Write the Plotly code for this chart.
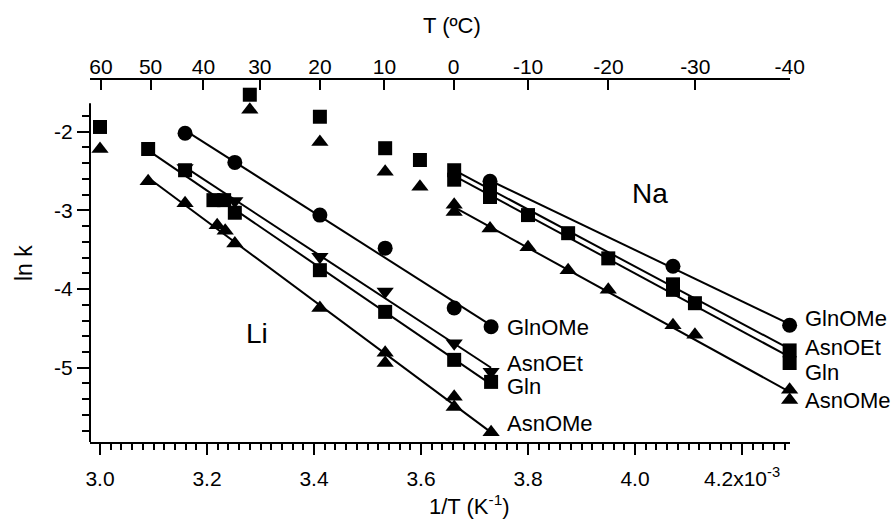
import plotly.graph_objects as go
import numpy as np

# ---- data (x = 1/T in units of 1e-3 K^-1, y = ln k) ----
# Li series
li_glnome_x = [3.159, 3.252, 3.411, 3.533, 3.662, 3.731]
li_glnome_y = [-2.02, -2.39, -3.06, -3.48, -4.24, -4.48]

li_asnoet_x = [3.159, 3.252, 3.411, 3.533, 3.662, 3.731]
li_asnoet_y = [-2.46, -2.88, -3.59, -4.03, -4.69, -5.05]

li_gln_x = [3.090, 3.159, 3.212, 3.232, 3.252, 3.411, 3.533, 3.662, 3.731]
li_gln_y = [-2.22, -2.49, -2.87, -2.87, -3.03, -3.76, -4.29, -4.90, -5.18]

li_asnome_x = [3.090, 3.159, 3.219, 3.234, 3.252, 3.411, 3.533, 3.533, 3.662, 3.662, 3.731]
li_asnome_y = [-2.63, -2.91, -3.19, -3.26, -3.42, -4.24, -4.81, -4.94, -5.37, -5.50, -5.82]

# Na series
na_glnome_x = [3.729, 4.071, 4.289]
na_glnome_y = [-2.63, -3.71, -4.46]

na_asnoet_x = [3.662, 3.729, 4.071, 4.289]
na_asnoet_y = [-2.49, -2.74, -3.94, -4.78]

na_gln_x = [3.662, 3.729, 3.800, 3.875, 3.950, 4.071, 4.112, 4.289]
na_gln_y = [-2.61, -2.83, -3.06, -3.29, -3.61, -4.01, -4.18, -4.94]

na_asnome_x = [3.662, 3.662, 3.729, 3.800, 3.875, 3.950, 4.071, 4.112, 4.289, 4.289]
na_asnome_y = [-2.93, -3.02, -3.23, -3.47, -3.76, -4.01, -4.46, -4.58, -5.28, -5.41]

# points without fit (high temperature)
hi_sq_x = [3.000, 3.280, 3.411, 3.533, 3.598]
hi_sq_y = [-1.94, -1.53, -1.81, -2.21, -2.36]
hi_tri_x = [3.000, 3.280, 3.411, 3.533, 3.598]
hi_tri_y = [-2.22, -1.72, -2.13, -2.51, -2.70]

# axis ticks
top_temps = [60, 50, 40, 30, 20, 10, 0, -10, -20, -30, -40]
y_ticks = [-5, -4, -3, -2]

FONT = "Liberation Sans, Arial, sans-serif"
BLACK = "black"

# ---- layout geometry (pixels) ----
W, H = 894, 521
L, R, T, B = 90, 104, 80, 79
PW, PH = W - L - R, H - T - B
xr = [2.9813, 4.2897]
yr = [-5.944, -1.343]
y_axis_top = -1.64


def px(xp):
    return (xp - L) / PW


def py(yp):
    return (H - B - yp) / PH


fig = go.Figure()

series = [
    (li_glnome_x, li_glnome_y, "circle", 15),
    (li_asnoet_x, li_asnoet_y, "triangle-down", 15),
    (li_gln_x, li_gln_y, "square", 14),
    (li_asnome_x, li_asnome_y, "triangle-up", 15),
    (na_glnome_x, na_glnome_y, "circle", 15),
    (na_asnoet_x, na_asnoet_y, "square", 14),
    (na_gln_x, na_gln_y, "square", 14),
    (na_asnome_x, na_asnome_y, "triangle-up", 15),
]

# fit lines
for xs, ys, sym, sz in series:
    a, b = np.polyfit(xs, ys, 1)
    xe = [min(xs), max(xs)]
    fig.add_trace(go.Scatter(x=xe, y=[a * v + b for v in xe], mode="lines",
                             line=dict(color=BLACK, width=2), showlegend=False,
                             hoverinfo="skip"))

# markers
for xs, ys, sym, sz in series:
    fig.add_trace(go.Scatter(x=xs, y=ys, mode="markers",
                             marker=dict(symbol=sym, size=sz, color=BLACK, line=dict(width=0)),
                             cliponaxis=False, showlegend=False))

fig.add_trace(go.Scatter(x=hi_sq_x, y=hi_sq_y, mode="markers",
                         marker=dict(symbol="square", size=14, color=BLACK, line=dict(width=0)),
                         cliponaxis=False, showlegend=False))
fig.add_trace(go.Scatter(x=hi_tri_x, y=hi_tri_y, mode="markers",
                         marker=dict(symbol="triangle-up", size=15, color=BLACK, line=dict(width=0)),
                         cliponaxis=False, showlegend=False))

# invisible trace on the top axis so it is drawn
fig.add_trace(go.Scatter(x=[xr[0]], y=[yr[0]], xaxis="x2", mode="markers",
                         marker=dict(opacity=0), showlegend=False, hoverinfo="skip"))

top_vals = [1000.0 / (t + 273.15) for t in top_temps]
minor_y = [v for v in np.round(np.arange(-5.8, y_axis_top, 0.2), 2) if abs(v - round(v)) > 1e-6]

fig.update_layout(
    width=W, height=H,
    margin=dict(l=L, r=R, t=T, b=B, pad=0),
    paper_bgcolor="white", plot_bgcolor="white",
    font=dict(family=FONT, size=21, color=BLACK),
    xaxis=dict(range=xr, showline=True, linewidth=2, linecolor=BLACK,
               showgrid=False, zeroline=False,
               tickmode="linear", tick0=3.0, dtick=0.2, tickformat=".1f",
               labelalias={"4.2": "4.2x10<sup>-3</sup>"},
               ticks="outside", ticklen=11, tickwidth=2, tickcolor=BLACK,
               ticklabelstandoff=6,
               minor=dict(dtick=0.02, tick0=3.0, ticks="outside", ticklen=6,
                          tickwidth=1.5, tickcolor=BLACK, showgrid=False),
               anchor="y", tickfont=dict(size=21)),
    xaxis2=dict(range=xr, overlaying="x", side="top", anchor="y",
                showline=True, linewidth=2, linecolor=BLACK,
                showgrid=False, zeroline=False,
                tickmode="array", tickvals=top_vals,
                ticktext=[str(t) for t in top_temps],
                ticks="inside", ticklen=10, tickwidth=2, tickcolor=BLACK,
                ticklabelstandoff=-4,
                tickfont=dict(size=21)),
    yaxis=dict(range=yr, domain=[0, 1], showline=False, showgrid=False, zeroline=False,
               tickmode="array", tickvals=y_ticks,
               ticktext=[str(v) for v in y_ticks],
               ticks="outside", ticklen=12, tickwidth=2, tickcolor=BLACK,
               minor=dict(tickmode="array", tickvals=minor_y, ticks="outside", ticklen=7,
                          tickwidth=2, tickcolor=BLACK, showgrid=False),
               tickfont=dict(size=21)),
)

# left axis line (only up to the top of the ln k scale)
fig.add_shape(type="line", xref="paper", yref="y", x0=0, x1=0, y0=yr[0], y1=y_axis_top,
              line=dict(color=BLACK, width=2))

ann = [
    ("T (ºC)", 452, 25, "center", 22),
    ("1/T (K<sup>-1</sup>)", 470, 505, "center", 22),
    ("Li", 257, 333, "center", 28),
    ("Na", 650, 193, "center", 28),
    ("GlnOMe", 505, 327, "left", 22),
    ("AsnOEt", 505, 363, "left", 22),
    ("Gln", 505, 386, "left", 22),
    ("AsnOMe", 505, 423, "left", 22),
    ("GlnOMe", 803, 318, "left", 22),
    ("AsnOEt", 803, 347, "left", 22),
    ("Gln", 803, 372, "left", 22),
    ("AsnOMe", 803, 400, "left", 22),
]
for text, xx, yy, anchor, size in ann:
    fig.add_annotation(text=text, x=px(xx), y=py(yy), xref="paper", yref="paper",
                       xanchor=anchor, yanchor="middle", showarrow=False,
                       font=dict(family=FONT, size=size, color=BLACK))

fig.add_annotation(text="ln k", x=px(24), y=py(263), xref="paper", yref="paper",
                   xanchor="center", yanchor="middle", showarrow=False, textangle=-90,
                   font=dict(family=FONT, size=23, color=BLACK))

fig.write_html("out.html", config={"displayModeBar": False},
               post_script="document.body.style.margin='0px';")
